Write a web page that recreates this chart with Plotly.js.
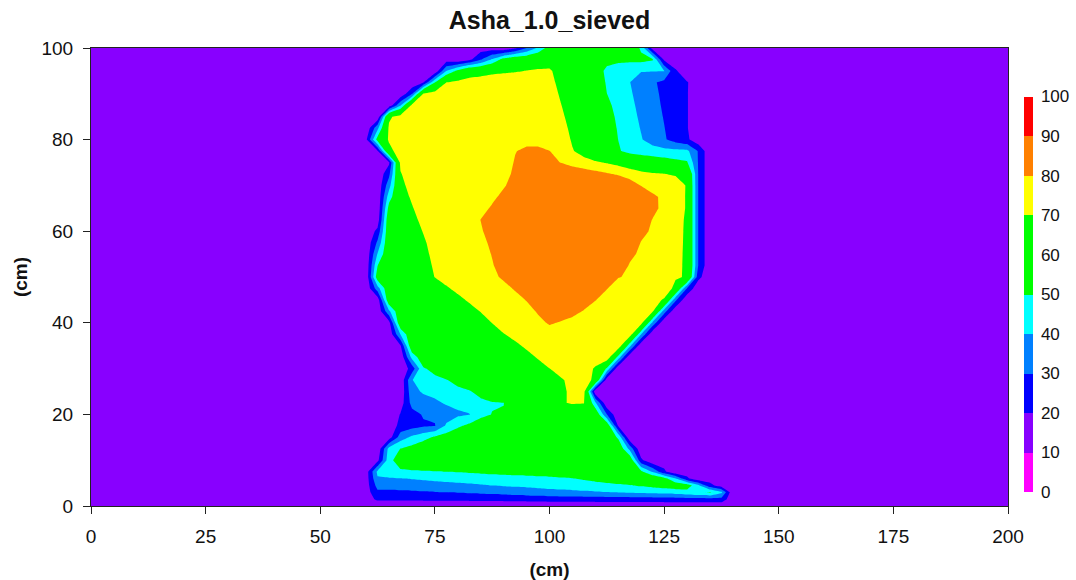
<!DOCTYPE html>
<html>
<head>
<meta charset="utf-8">
<script src="https://cdn.plot.ly/plotly-3.0.1.min.js"></script>
<style>
  html, body { margin: 0; padding: 0; background: #ffffff; }
  #chart { width: 1076px; height: 580px; }
</style>
</head>
<body>
<div id="chart"></div>
<script>
// Grid node positions (cm)
const xCm = [0, 57.5, 60, 62.5, 65, 67.5, 70, 72.5, 75, 77.5, 80, 82.5, 85, 87.5, 90,
  92.5, 95, 97.5, 100, 102.5, 105, 107.5, 110, 112.5, 115, 117.5, 120, 122.5, 125,
  127.5, 130, 132.5, 135, 137.5, 140, 142.5, 200];

const yCm = [0, 1.5, 3, 4.5, 6, 7.5, 10, 12.5, 15, 17.5, 20, 22.5, 25, 27.5, 30, 32.5,
  35, 37.5, 40, 42.5, 45, 47.5, 50, 52.5, 55, 57.5, 60, 62.5, 65, 67.5, 70, 72.5, 75,
  77.5, 80, 82.5, 85, 87.5, 90, 92.5, 95, 97.5, 100];

// Values on the grid, one row per depth in yCm (columns follow xCm)
const zRows = [
  /* 0    */ [15, 15,15,12,12,12, 12,12,12,12,12, 12,12,12,12,12, 12,12,12,12,12, 12,12,12,12,12, 12,12,12,12,12, 12,12,12,15,15, 15],
  /* 1.5  */ [15, 15,15,22,22,22.1, 22.2,22.3,22.4,22.5,22.7, 22.9,23,23.2,23.5,23.8, 24.1,24.5,25,25.1,25.2, 25.3,25.4,25.6,25.7,25.8, 26,26.1,26.2,26.3,26.4, 26.5,27,27,12,15, 15],
  /* 3    */ [15, 15,15,28,28,28.4, 28.7,29.2,29.7,30.1,30.6, 31.2,31.8,32.4,33.2,34, 34.9,35.9,37.1,37.6,38.1, 38.6,39.2,39.8,40.3,40.8, 41.4,42.2,43.2,44.5,46.3, 49.1,51.4,42,12,15, 15],
  /* 4.5  */ [15, 15,15,33.6,33.6,34.1, 34.7,35.3,36,36.7,37.5, 38.3,39.3,40.2,41,41.6, 42.2,42.8,43.3,43.8,44.4, 45.1,45.9,46.8,48,49.4, 51.4,53.4,55,56.7,55.6, 42,23,15,15,15, 15],
  /* 6    */ [15, 15,15,38.9,38.9,39.7, 40.6,41.5,42.5,43.3,44, 44.7,45.3,45.8,46.3,46.7, 47.1,47.5,47.9,48.7,49.6, 51.4,53.5,55.6,57.7,59.8, 60,60,54,40.4,22, 12,15,15,15,15, 15],
  /* 7.5  */ [15, 15,15,42.2,47.5,48.1, 48.6,49.1,49.6,50.1,50.6, 51.3,51.9,52.5,53.2,53.8, 54.3,55,55.6,57.7,59.8, 60,60,60,60,60, 52.3,38.6,22,12,15, 15,15,15,15,15, 15],
  /* 10   */ [15, 15,15,17,46.4,56.4, 60,60,60,60,60, 60,60,60,60,60, 60,60,60,60,60, 60,60,60,60,60, 22,12,15,15,15, 15,15,15,15,15, 15],
  /* 12.5 */ [15, 15,15,12,43.8,50.2, 53.7,57.2,60,60,60, 60,60,60,60,60, 60,60,60,60,60, 60,60,60,60,36.8, 12,15,15,15,15, 15,15,15,15,15, 15],
  /* 15   */ [15, 15,15,15,15,35, 42,46.7,51.4,54.9,58.4, 60,60,60,60,60, 60,60,60,60,60, 60,60,60,48.2,12, 15,15,15,15,15, 15,15,15,15,15, 15],
  /* 17.5 */ [15, 15,15,15,12,23.8, 26.2,28.6,29.5,41.5,48, 52.6,56.1,59.6,60,60, 60,60,60,60,60, 60,60,59.7,19,12, 15,15,15,15,15, 15,15,15,15,15, 15],
  /* 20   */ [15, 15,15,15,12,20.6, 26.4,30.9,31.5,35.6,38.2, 39.5,47.3,50.3,50.6,59.3, 60,60,60,60,60, 60,60,30.4,12,15, 15,15,15,15,15, 15,15,15,15,15, 15],
  /* 22.5 */ [15, 15,15,15,15,15, 33.3,35.6,38.2,41,42.9, 45.1,47.4,49.2,49.8,58.2, 60,60,60,69,71, 70.5,41.8,12,15,15, 15,15,15,15,15, 15,15,15,15,15, 15],
  /* 25   */ [15, 15,15,15,15,12, 36.8,41.3,42.9,45.1,47.3, 49.1,53.6,58.2,60,60, 60,60,60,68,72, 74,12,15,15,15, 15,15,15,15,15, 15,15,15,15,15, 15],
  /* 27.5 */ [15, 15,15,15,15,12, 39.6,45.2,47.3,49.5,53.6, 58,60,60,60,60, 60,60,62,68.2,74.4, 77,66,14,15,15, 15,15,15,15,15, 15,15,15,15,15, 15],
  /* 30   */ [15, 15,15,15,15,12, 24,48.9,53.4,58,60, 60,60,60,60,60, 60,63.6,69.8,76,75, 75,68.8,48.4,12,15, 15,15,15,15,15, 15,15,15,15,15, 15],
  /* 32.5 */ [15, 15,15,15,15,12, 43,57.9,60,60,60, 60,60,60,60,60, 65.1,71.4,77.7,75,75, 75,75,79,45.6,12, 15,15,15,15,15, 15,15,15,15,15, 15],
  /* 35   */ [15, 15,15,15,12,19, 60,60,60,60,60, 60,60,60,61,66.6, 72.8,78,75,75,75, 75,75,75,79,43, 12,15,15,15,15, 15,15,15,15,15, 15],
  /* 37.5 */ [15, 15,15,15,12,40.4, 60,60,60,60,60, 60,60,63.6,69.3,74.9, 75,75,72.4,75,75, 75,75,75,75,76.8, 40.1,12,15,15,15, 15,15,15,15,15, 15],
  /* 40   */ [15, 15,15,12,16.6,60, 60,60,60,60,60, 60,63.2,70.3,77.4,75, 75,75.6,81.9,78.7,75.2, 75,75,75,75,75, 74,37.3,12,15,15, 15,15,15,15,15, 15],
  /* 42.5 */ [15, 15,15,12,37.9,60, 60,60,60,60,60, 64.3,70.6,76.8,75,75, 73.9,81.8,88,88,84.8, 79,73.1,75,75,75, 75,71.3,34.6,12,15, 15,15,15,15,15, 15],
  /* 45   */ [15, 15,12,14,59.2,60, 60,60,60,60,66, 72.1,78,75,75,74.2, 80.8,87.4,88,88,88, 87.6,80.6,73.5,75,75, 75,75,68.5,31.8,12, 15,15,15,15,15, 15],
  /* 47.5 */ [15, 15,12,35.4,60,60, 60,60,60,68,73.9, 78,75,75,75.1,81.7, 88,88,88,88,88, 88,87.6,80.6,73.5,75, 75,75,79,65.7,29, 12,15,15,15,15, 15],
  /* 50   */ [15, 15,12,56.7,60,60, 60,60.7,70.4,76.1,75, 75,75,76.4,82.6,88, 88,88,88,88,88, 88,88,87.6,80.6,78.4, 76.7,75,73.2,71.5,68.8, 23,12,15,15,15, 15],
  /* 52.5 */ [15, 15,12,49.8,60,60, 60,62.9,72.6,75,75, 75,75,78.6,88,88, 88,88,88,88,88, 88,88,88,85.6,79.3, 77.4,75.5,73.6,71.7,68.8, 29,12,15,15,15, 15],
  /* 55   */ [15, 15,12,40.7,60,60, 60,65.1,74.9,75,75, 75,71.4,81,88,88, 88,88,88,88,88, 88,88,88,88,82, 78.3,76.2,74,71.9,68.8, 29,12,15,15,15, 15],
  /* 57.5 */ [15, 15,12,31.9,60,60, 60,67.4,77.1,75,75, 75,74.6,83.9,88,88, 88,88,88,88,88, 88,88,88,88,86.9, 79.5,77.1,74.6,72.2,68.8, 29,12,15,15,15, 15],
  /* 60   */ [15, 15,12,22.6,60,60, 61.6,70.9,75,75,75, 75,78,87.4,88,88, 88,88,88,88,88, 88,88,88,88,88, 83.2,78.2,75.3,72.5,68.8, 29,12,15,15,15, 15],
  /* 62.5 */ [15, 15,12,14,60,60, 65.2,74.5,75,75,75, 71.1,80.3,88,88,88, 88,88,88,88,88, 88,88,88,88,88, 88,79.4,76.4,73,68.8, 29,12,15,15,15, 15],
  /* 65   */ [15, 15,15,12,54,60, 68.7,78,75,75,75, 75,74.3,82.3,88,88, 88,88,88,88,88, 88,88,88,88,88, 88,84.4,75.7,76,68.8, 29,12,15,15,15, 15],
  /* 67.5 */ [15, 15,15,12,45.2,62.8, 72.2,75,75,75,75, 75,75,76.3,84.3,88, 88,88,88,88,88, 88,88,88,88,88, 88,82.6,77.1,76,68.8, 29,12,15,15,15, 15],
  /* 70   */ [15, 15,15,12,36.2,65.8, 75.4,75,75,75,75, 75,75,71,78.3,86.3, 88,88,88,88,88, 88,88,88,88,85, 79.6,74.2,75,77,68.8, 29,12,15,15,15, 15],
  /* 72.5 */ [15, 15,15,12,27.3,68.9, 78.4,75,75,75,75, 75,75,75,73.9,83.6, 88,88,88,88,87.5, 85.3,83.2,81.1,79,75.8, 72.7,71.1,70.3,68.4,66.6, 29,12,15,15,15, 15],
  /* 75   */ [15, 15,15,15,18.2,73, 75,75,75,75,75, 75,75,75,71.6,81.4, 88,88,82,79.8,75.9, 73.8,71.3,69.2,66.5,63.1, 60.5,57.9,55.4,52.9,51.1, 29,12,15,15,15, 15],
  /* 77.5 */ [15, 15,15,18.8,66,76.2, 75,75,75,75,75, 75,75,75,75,79.2, 84,84,80.2,75.4,70.7, 65.9,61,56.1,51.2,46.4, 44.7,43.7,43,42.6,42.3, 29,12,15,15,15, 15],
  /* 80   */ [15, 15,18,54.6,71.6,75, 75,75,75,75,75, 75,75,75,75,74, 74,74,74,76,68.8, 60,60,59.6,49.9,45.3, 40.6,35.9,31.2,25.9,22, 13,15,15,15,15, 15],
  /* 82.5 */ [15, 15,12,37.4,71.8,75, 75,75,75,75,75, 75,75,75,75,75, 75,75,75,75.8,66.1, 60,60,57.2,48.8,44.2, 39.5,34.9,30.3,25.4,20.6, 13,15,15,15,15, 15],
  /* 85   */ [15, 15,15,12,68,75, 75,75,75,75,75, 75,75,75,75,75, 75,75,75,73.2,63.5, 60,60,54.9,47.7,43.1, 38.5,34,29.5,24.9,20.6, 13,15,15,15,15, 15],
  /* 87.5 */ [15, 15,15,15,12,38.6, 72.9,78,75,75,75, 75,75,75,75,75, 75,75,75,70.5,60.9, 60,60,52.5,46.6,42.1, 37.6,33.1,28.7,24.5,20.6, 13,15,15,15,15, 15],
  /* 90   */ [15, 15,15,15,15,12, 29,71,75,78,75, 75,75,75,75,75, 75,75,77.5,67.8,60, 60,59.7,50.1,45.6,41.1, 36.7,32.3,28.1,24.2,20.6, 13,15,15,15,15, 15],
  /* 92.5 */ [15, 15,15,15,15,15, 12,19,49.5,69.9,72.9, 74.2,75.4,76.6,77.8,78, 75,75,74.8,65.2,60, 60,57.4,48.9,44.5,40.2, 35.7,31.4,27.5,23.8,20.8, 13,15,15,15,15, 15],
  /* 95   */ [15, 15,15,15,15,15, 15,15,12,40,53, 64,65,67,68,69, 70.3,71.5,72.2,63,60, 60,55,48,43.6,40.5, 40.5,40.5,40.5,21.5,12, 15,15,15,15,15, 15],
  /* 97.5 */ [15, 15,15,15,15,15, 15,15,15,15,12, 17,29,41,54,60, 60,62,62,60,60, 60,56,53,53,53, 53,51,18,12,15, 15,15,15,15,15, 15],
  /* 100  */ [15, 15,15,15,15,15, 15,15,15,15,15, 15,15,15,12,18, 30,42,55,60,60, 60,60,60,60,60, 48,15,15,15,15, 15,15,15,15,15, 15]
];

// Contour levels and band colours (each entry is the colour at a band's mid value)
const levelStart = 0;
const levelEnd = 100;
const levelStep = 10;
const bandColors = [
  '#ffffff', // outside the scale, below 0
  '#ff00ff', // 0-10
  '#8800ff', // 10-20
  '#0000ff', // 20-30
  '#0080ff', // 30-40
  '#00ffff', // 40-50
  '#00ff00', // 50-60
  '#00ff00', // 60-70
  '#ffff00', // 70-80
  '#ff8000', // 80-90
  '#ff0000', // 90-100
  '#ffffff'  // outside the scale, above 100
];
const colorTicks = [0, 10, 20, 30, 40, 50, 60, 70, 80, 90, 100];
const xTicks = [0, 25, 50, 75, 100, 125, 150, 175, 200];
const yTicks = [0, 20, 40, 60, 80, 100];

const colorscale = bandColors.map((c, i) => [i / (bandColors.length - 1), c]);

const FONT = 'Liberation Sans, Arial, Helvetica, sans-serif';

const trace = {
  type: 'contour',
  x: xCm,
  y: yCm,
  z: zRows,
  autocontour: false,
  contours: {
    start: levelStart,
    end: levelEnd,
    size: levelStep,
    coloring: 'fill',
    showlines: false
  },
  line: { width: 0, smoothing: 0 },
  colorscale: colorscale,
  hoverinfo: 'skip',
  colorbar: {
    thickness: 9,
    thicknessmode: 'pixels',
    len: 434.5,
    lenmode: 'pixels',
    x: 1.0175,
    xanchor: 'left',
    xpad: 0,
    y: 0.4624,
    yanchor: 'middle',
    ypad: 0,
    outlinewidth: 0,
    ticks: 'outside',
    ticklen: 5,
    tickcolor: 'rgba(0,0,0,0)',
    tickmode: 'array',
    tickvals: colorTicks,
    ticktext: colorTicks.map(String),
    tickfont: { family: FONT, size: 17, color: '#111111' }
  }
};

const axisCommon = {
  showgrid: false,
  zeroline: false,
  showline: true,
  linecolor: '#222222',
  linewidth: 1,
  mirror: true,
  ticks: 'outside',
  ticklen: 7,
  tickwidth: 1,
  tickcolor: '#222222',
  tickfont: { family: FONT, size: 19, color: '#111111' }
};

const layout = {
  width: 1076,
  height: 580,
  margin: { l: 91, r: 68, t: 48, b: 74, pad: 0, autoexpand: false },
  paper_bgcolor: '#ffffff',
  plot_bgcolor: '#ffffff',
  showlegend: false,
  title: {
    text: '<b>Asha_1.0_sieved</b>',
    font: { family: FONT, size: 25, color: '#111111' },
    x: 0.5,
    xref: 'paper',
    xanchor: 'center',
    y: 1 - 20 / 580,
    yref: 'container',
    yanchor: 'middle'
  },
  xaxis: Object.assign({}, axisCommon, {
    range: [0, 200],
    tickmode: 'array',
    tickvals: xTicks,
    ticktext: xTicks.map(String),
    ticklabelstandoff: 6,
    title: { text: '<b>(cm)</b>', font: { family: FONT, size: 19, color: '#111111' }, standoff: 17 }
  }),
  yaxis: Object.assign({}, axisCommon, {
    range: [0, 100],
    tickmode: 'array',
    tickvals: yTicks,
    ticktext: yTicks.map(String),
    ticklabelstandoff: 6,
    title: { text: '<b>(cm)</b>', font: { family: FONT, size: 19, color: '#111111' }, standoff: 8 }
  })
};

Plotly.newPlot('chart', [trace], layout, { staticPlot: true, displayModeBar: false });
</script>
</body>
</html>
